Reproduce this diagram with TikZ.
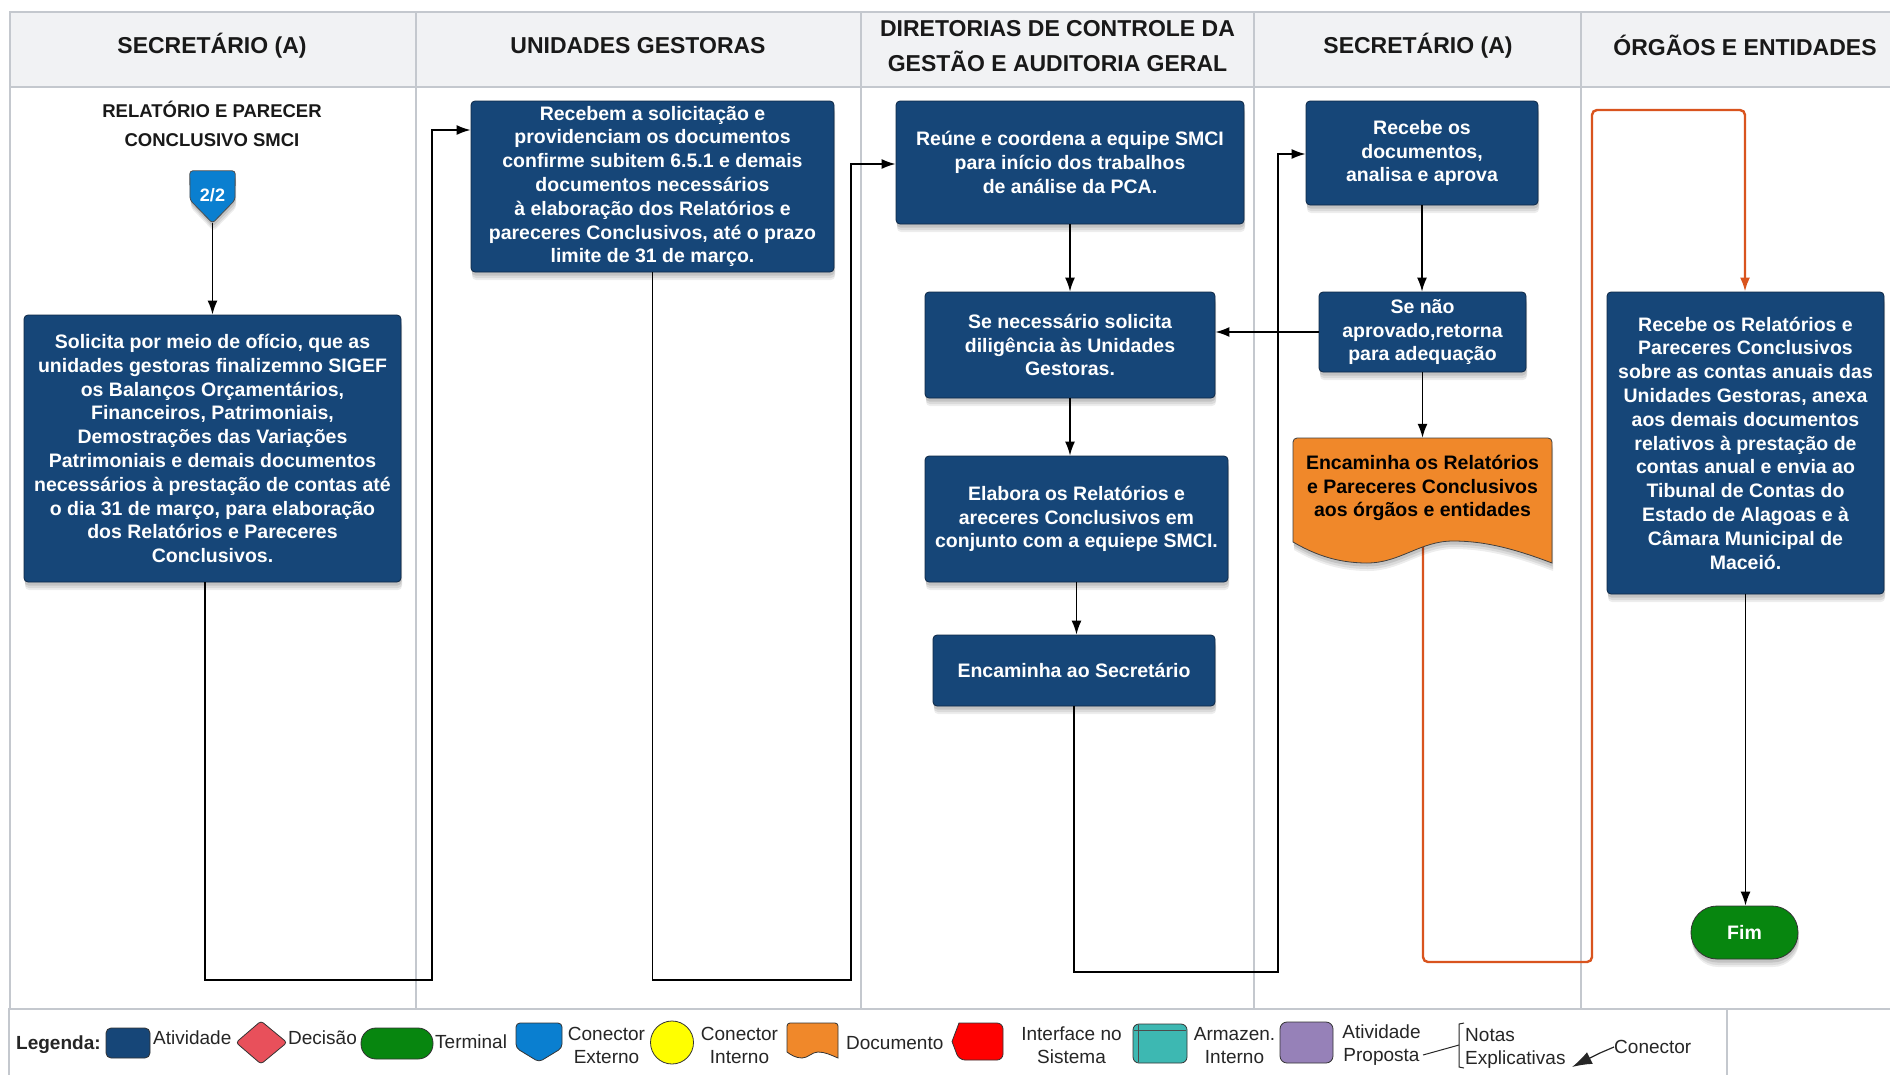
\documentclass[tikz,border=0pt]{standalone}
\usepackage{fontspec}
\setmainfont{Liberation Sans}
\usetikzlibrary{arrows.meta,shadows,calc}
\definecolor{actblue}{RGB}{22,70,120}
\definecolor{actborder}{RGB}{14,40,70}
\definecolor{headfill}{RGB}{241,242,244}
\definecolor{gridc}{RGB}{196,200,206}
\definecolor{docfill}{RGB}{240,136,42}
\definecolor{oline}{RGB}{217,84,30}
\definecolor{cblue}{RGB}{10,127,208}
\definecolor{tgreen}{RGB}{7,134,15}
\definecolor{dred}{RGB}{232,80,91}
\definecolor{ired}{RGB}{255,0,0}
\definecolor{teal}{RGB}{61,184,178}
\definecolor{purp}{RGB}{150,129,184}
\definecolor{yel}{RGB}{255,255,0}
\begin{document}
\begin{tikzpicture}[x=1pt,y=-1pt,
  shad/.style={drop shadow={shadow xshift=1pt,shadow yshift=-8pt,opacity=0.07,fill=black},
               drop shadow={shadow xshift=1pt,shadow yshift=-6pt,opacity=0.08,fill=black},
               drop shadow={shadow xshift=0.5pt,shadow yshift=-3.5pt,opacity=0.1,fill=black}},
  act/.style={draw=actborder, line width=0.8pt, fill=actblue, rounded corners=4pt, text=white,
    font=\bfseries\fontsize{19.5}{23.8}\selectfont, align=center, inner sep=0pt, shad},
  head/.style={font=\bfseries\fontsize{23}{35}\selectfont, align=center, text=black!90},
  arr/.style={draw=black, line width=1.6pt, -{Latex[length=14pt,width=10pt]}},
  oarr/.style={draw=oline, line width=2.4pt, -{Latex[length=14pt,width=10pt]}},
  leg/.style={font=\fontsize{19}{23}\selectfont, text=black!85, inner sep=0pt},
  legshape/.style={draw=black!80, line width=0.8pt},
  lane/.style={draw=gridc, line width=1.5pt}
]
\useasboundingbox (0,0) rectangle (1890,1074);
\fill[white] (0,0) rectangle (1890,1074);

% header
\fill[headfill] (10,12) rectangle (1895,87);
\draw[lane] (1895,12) -- (10,12) -- (10,1009);
\draw[draw=gridc, line width=2.5pt] (10,87) -- (1895,87);
\foreach \xx in {416,861,1254,1581}{\draw[lane] (\xx,12) -- (\xx,1009);}
% legend frame
\draw[lane] (1895,1009) -- (9,1009) -- (9,1080);
\draw[lane] (1727,1009) -- (1727,1080);

\node[head] (h1) at (212,46) {SECRETÁRIO (A)};
\node[head] (h2) at (638,46) {UNIDADES GESTORAS};
\node[head] (h3) at (1057.5,46) {DIRETORIAS DE CONTROLE DA\\GESTÃO E AUDITORIA GERAL};
\node[head] (h4) at (1418,46) {SECRETÁRIO (A)};
\node[head] (h5) at (1745,45) {ÓRGÃOS E ENTIDADES};

\node[font=\bfseries\fontsize{18.5}{29}\selectfont, align=center, text=black!90] (ttl) at (212,124) {RELATÓRIO E PARECER\\CONCLUSIVO SMCI};

% connector 2/2
\node[minimum width=45pt, minimum height=52pt, inner sep=0pt] (c22) at (212.5,197) {};
\draw[fill=cblue, draw=black!70, line width=0.8pt, rounded corners=3pt, shad]
  (c22.south) -- (190,200) -- (c22.north west) -- (c22.north east) -- (235,200) -- cycle;
\node[text=white, font=\bfseries\fontsize{18}{20}\selectfont] at (212.5,195) {2/2};

% activity boxes
\node[act, minimum width=377pt, minimum height=267pt] (b1) at (212.5,448.5)
 {Solicita por meio de ofício, que as\\unidades gestoras finalizemno SIGEF\\os Balanços Orçamentários,\\Financeiros, Patrimoniais,\\Demostrações das Variações\\Patrimoniais e demais documentos\\necessários à prestação de contas até\\o dia 31 de março, para elaboração\\dos Relatórios e Pareceres\\Conclusivos.};
\node[act, minimum width=363pt, minimum height=171pt] (b2) at (652.5,186.5)
 {Recebem a solicitação e\\providenciam os documentos\\confirme subitem 6.5.1 e demais\\documentos necessários\\à elaboração dos Relatórios e\\pareceres Conclusivos, até o prazo\\limite de 31 de março.};
\node[act, minimum width=348pt, minimum height=123pt] (b3) at (1070,162.5)
 {Reúne e coordena a equipe SMCI\\para início dos trabalhos\\de análise da PCA.};
\node[act, minimum width=290pt, minimum height=106pt] (b4) at (1070,345)
 {Se necessário solicita\\diligência às Unidades\\Gestoras.};
\node[act, minimum width=303pt, minimum height=126pt] (b5) at (1076.5,519)
 {Elabora os Relatórios e\\areceres Conclusivos em\\conjunto com a equiepe SMCI.};
\node[act, minimum width=282pt, minimum height=71pt] (b6) at (1074,670.5)
 {Encaminha ao Secretário};
\node[act, minimum width=232pt, minimum height=104pt] (b7) at (1422,153)
 {Recebe os\\documentos,\\analisa e aprova};
\node[act, minimum width=207pt, minimum height=80pt] (b8) at (1422.5,332)
 {Se não\\aprovado,retorna\\para adequação};
\node[act, minimum width=277pt, minimum height=302pt] (b9) at (1745.5,443)
 {Recebe os Relatórios e\\Pareceres Conclusivos\\sobre as contas anuais das\\Unidades Gestoras, anexa\\aos demais documentos\\relativos à prestação de\\contas anual e envia ao\\Tibunal de Contas do\\Estado de Alagoas e à\\Câmara Municipal de\\Maceió.};
\node[act, fill=tgreen, draw=black!80, minimum width=107pt, minimum height=53pt, rounded corners=26pt] (fim) at (1744.5,932.5) {Fim};

% document node (anchors)
\node[minimum width=259pt, minimum height=125pt, inner sep=0pt] (doc) at (1422.5,500.5) {};

% orange connector (drawn below the document)
\coordinate (o1) at (1423,962);
\coordinate (o2) at (1592,962);
\coordinate (o3) at (1592,110);
\coordinate (o4) at (1745,110);
\draw[oarr, rounded corners=5pt] (doc.center -| o1) -- (o1) -- (o2) -- (o3) -- (o4) -- (o4 |- b9.north);

\draw[fill=docfill, draw=black!75, line width=0.8pt, shad]
  (1293,542) [rounded corners=4pt] -- (1293,438) -- (1552,438) [sharp corners] -- (1552,563)
  .. controls (1515,549) and (1485,541) .. (1453,541)
  .. controls (1420,541) and (1400,563) .. (1367,563)
  .. controls (1335,563) and (1312,553) .. (1293,542) -- cycle;
\node[font=\bfseries\fontsize{19.5}{23.8}\selectfont, align=center, text=black] (doct) at (1422.5,488)
 {Encaminha os Relatórios\\e Pareceres Conclusivos\\aos órgãos e entidades};

% connectors
\draw[arr] (c22.south) -- (c22.south |- b1.north);
\coordinate (r1a) at (205,980);
\coordinate (r1b) at (432,980);
\coordinate (r1c) at (432,130);
\draw[arr] (b1.south -| r1a) -- (r1a) -- (r1b) -- (r1c) -- (r1c -| b2.west);
\coordinate (r2a) at (851,980);
\coordinate (r2b) at (851,164);
\draw[arr] (b2.south) -- (b2.south |- r2a) -- (r2a) -- (r2b) -- (r2b -| b3.west);
\draw[arr] (b3.south) -- (b3.south |- b4.north);
\draw[arr] (b4.south) -- (b4.south |- b5.north);
\draw[arr] (b5.south) -- (b5.south |- b6.north);
\coordinate (r3a) at (1278,972);
\coordinate (r3b) at (1278,154);
\draw[arr] (b6.south) -- (b6.south |- r3a) -- (r3a) -- (r3b) -- (r3b -| b7.west);
\draw[arr] (b7.south) -- (b7.south |- b8.north);
\draw[arr] (b8.west) -- (b8.west -| b4.east);
\draw[arr] (b8.south) -- (b8.south |- doc.north);
\draw[arr] (b9.south) -- (b9.south |- fim.north);

% legend
\node[leg, anchor=west, font=\bfseries\fontsize{19}{23}\selectfont] (lg) at (16,1045) {Legenda:};
\draw[legshape, fill=actblue, rounded corners=5pt] (106,1028) rectangle (150,1058);
\node[leg, anchor=west] (l1) at (153,1038) {Atividade};
\draw[legshape, fill=dred, rounded corners=3pt] (261,1021) -- (287,1042.5) -- (261,1064) -- (236,1042.5) -- cycle;
\node[leg, anchor=west] (l2) at (288,1038) {Decisão};
\draw[legshape, fill=tgreen, rounded corners=15pt] (361,1028) rectangle (433,1059);
\node[leg, anchor=west] (l3) at (435,1042) {Terminal};
\draw[legshape, fill=cblue, rounded corners=4pt] (539,1062) -- (516,1048) -- (516,1023) -- (562,1023) -- (562,1048) -- cycle;
\node[leg, align=center] (l4) at (606.5,1045.5) {Conector\\Externo};
\draw[legshape, fill=yel] (672,1042.5) circle (21.5);
\node[leg, align=center] (l5) at (739.5,1045.5) {Conector\\Interno};
\draw[legshape, fill=docfill] (787,1052) [rounded corners=3pt] -- (787,1023) -- (838,1023) [sharp corners] -- (838,1058)
  .. controls (831,1055) and (825,1052) .. (818,1052)
  .. controls (812,1052) and (808,1058) .. (802,1058)
  .. controls (796,1058) and (791,1055) .. (787,1052) -- cycle;
\node[leg, anchor=west] (l6) at (846,1043) {Documento};
\draw[legshape, fill=ired, rounded corners=6pt] (959,1023) -- (1003,1023) -- (1003,1060) -- (959,1060) [sharp corners] -- (952,1041.5) -- cycle;
\node[leg, align=center] (l7) at (1071.5,1045.5) {Interface no\\Sistema};
\draw[legshape, fill=teal, rounded corners=6pt] (1133,1024) rectangle (1187,1063);
\draw[black!70, line width=0.7pt] (1134,1030) -- (1186,1030);
\draw[black!70, line width=0.7pt] (1138,1025) -- (1138,1062);
\node[leg, align=center] (l8) at (1234.5,1045.5) {Armazen.\\Interno};
\draw[legshape, fill=purp, rounded corners=7pt] (1280,1022) rectangle (1333,1063);
\node[leg, align=center] (l9) at (1381.5,1045.5) {Atividade\\Proposta};
\coordinate (br) at (1459,1045);
\draw[black!85, line width=1pt] (1423,1055) -- (br);
\draw[black!85, line width=1pt] (1464,1023) -- (1459,1024) -- (1459,1067) -- (1464,1068);
\node[leg, align=left, anchor=west] (l10) at (1465,1048.5) {Notas\\Explicativas};
\node[leg, anchor=west] (l11) at (1614,1047) {Conector};
\coordinate (ca) at (1572,1067);
\draw[black!85, line width=1.2pt, -{Latex[length=20pt,width=13pt]}] (l11.west) -- (1600,1053) -- (ca);
\end{tikzpicture}
\end{document}
